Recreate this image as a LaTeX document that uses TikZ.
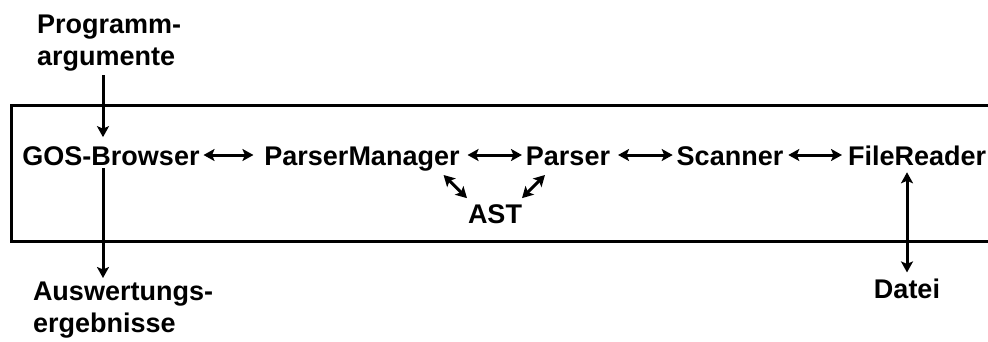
\documentclass[tikz,border=0pt]{standalone}
\usepackage{fontspec}
\setmainfont{Liberation Sans}
\usetikzlibrary{arrows.meta}
\begin{document}
\begin{tikzpicture}[x=1pt,y=-1pt,
  lbl/.style={font=\bfseries\fontsize{27}{32}\selectfont, inner sep=0pt, outer sep=0pt},
  link/.style={line width=3pt, {Stealth[length=11pt,width=12pt,inset=2.5pt]}-{Stealth[length=11pt,width=12pt,inset=2.5pt]}},
  flow/.style={line width=3pt, -{Stealth[length=11pt,width=12pt,inset=2.5pt]}},
  frame/.style={line width=3pt}]
\useasboundingbox (0,0) rectangle (988,341);
\clip (0,0) rectangle (988,341);

% enclosing frame (open to the right)
\draw[frame] (11,105) rectangle (1010,241);

% components
\node[lbl, anchor=base] (gos)     at (111,165) {GOS-Browser};
\node[lbl, anchor=base] (pm)      at (362,165) {ParserManager};
\node[lbl, anchor=base] (parser)  at (568,165) {Parser};
\node[lbl, anchor=base] (scanner) at (730,165) {Scanner};
\node[lbl, anchor=base west] (fr) at (848,165) {FileReader};
\node[lbl, anchor=base] (ast)     at (495,223) {AST};

% outside inputs and outputs
\node[lbl, anchor=north west, align=left] (prog) at (37,15) {Programm-\\argumente};
\node[lbl, anchor=north west, align=left] (ausw) at (33,282) {Auswertungs-\\ergebnisse};
\node[lbl, anchor=base] (datei)   at (907,298) {Datei};

% horizontal links
\draw[link] ([shift={(4,-10)}]gos.base east) -- ([shift={(-11,-10)}]pm.base west);
\draw[link] ([shift={(8,-10)}]pm.base east) -- ([shift={(-4,-10)}]parser.base west);
\draw[link] ([shift={(8,-10)}]parser.base east) -- ([shift={(-4,-10)}]scanner.base west);
\draw[link] ([shift={(5,-10)}]scanner.base east) -- ([shift={(-6,-10)}]fr.base west);

% links to the syntax tree
\draw[link] ([shift={(-16,10)}]pm.base east) -- ([shift={(-1,-6)}]ast.north west);
\draw[link] ([shift={(19,10)}]parser.base west) -- ([shift={(0,-6)}]ast.north east);

% input, output and file access
\coordinate (pin) at (103,75);
\draw[flow, shorten >=9pt] (pin) -- (pin |- gos.north);
\coordinate (gout) at (103,168);
\draw[flow, shorten >=4pt] (gout) -- (gout |- ausw.north);
\draw[link] ([yshift=-7pt]datei.north |- fr.south) -- ([yshift=6pt]datei.north);
\end{tikzpicture}
\end{document}
